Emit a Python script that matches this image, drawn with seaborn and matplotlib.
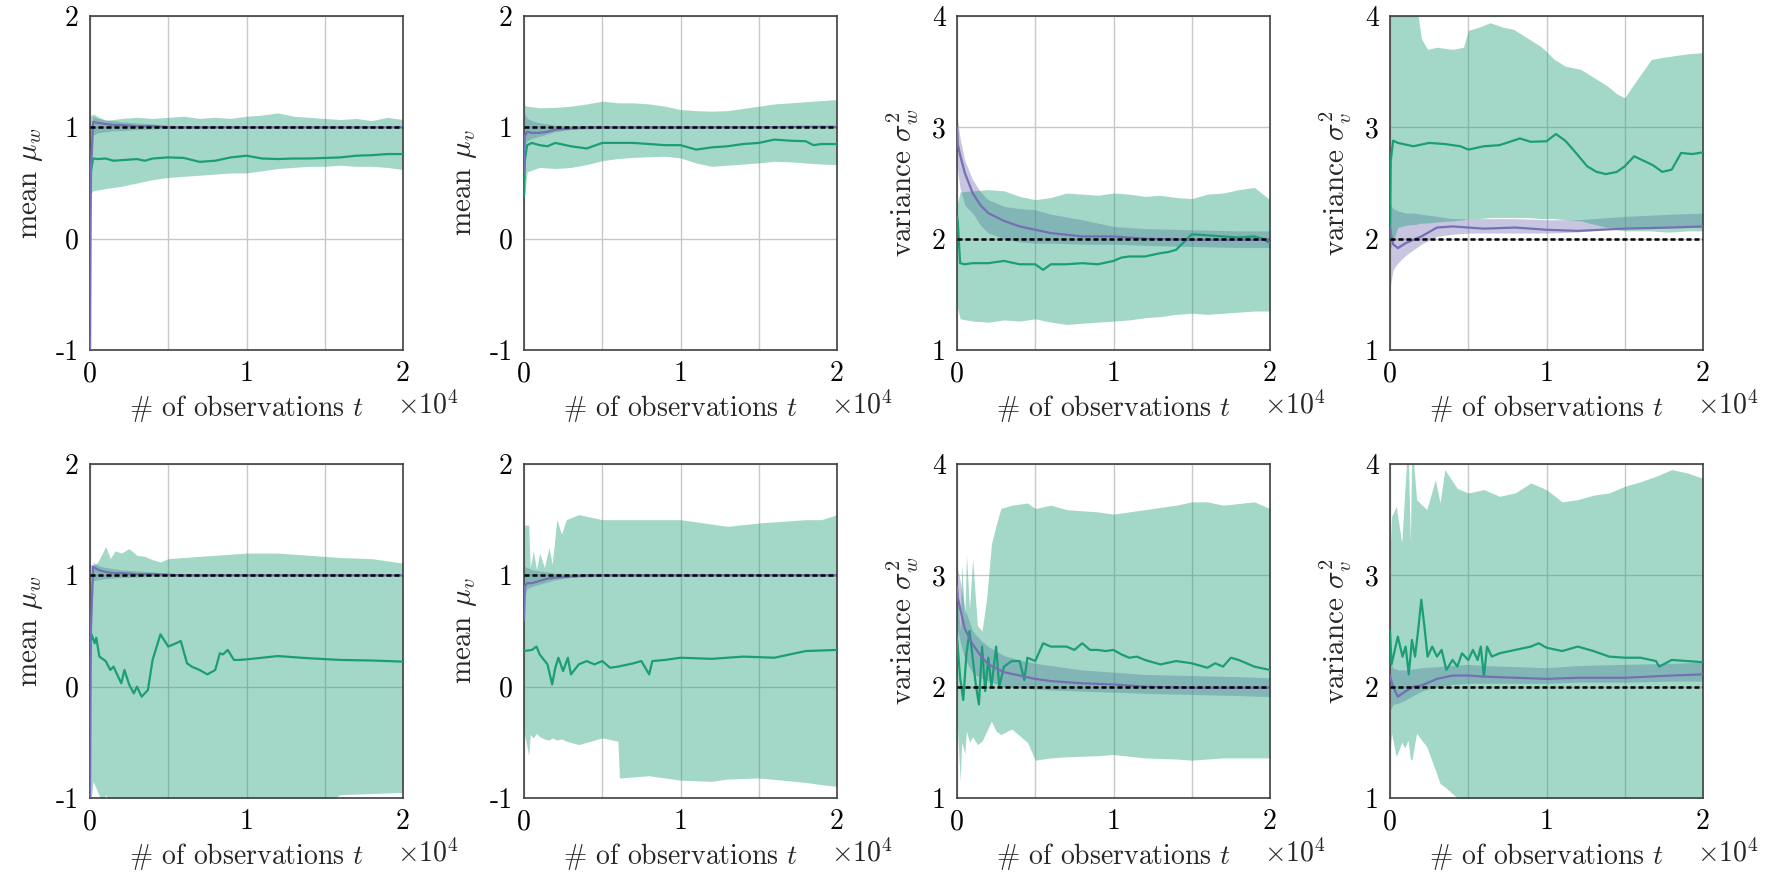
import matplotlib
matplotlib.use("Agg")
import matplotlib.pyplot as plt
import seaborn as sns
import pandas as pd

# ---------------- data (t in units of 10^4 observations) ----------------
T_PURPLE = [0, 0.005, 0.02, 0.05, 0.1, 0.15, 0.2, 0.3, 0.4, 0.5, 0.6, 0.8, 1.0, 1.2, 1.5, 1.8, 2.0]

# Panel 1: mean mu_w (top)
P1_G_T = [0, 0.005, 0.02, 0.05, 0.1, 0.15, 0.2, 0.25, 0.3, 0.35, 0.4, 0.5, 0.6, 0.7, 0.8, 0.9, 1.0, 1.1, 1.2, 1.3, 1.4, 1.5, 1.6, 1.7, 1.8, 1.9, 2.0]
P1_G_MEAN = [0.2, 0.6, 0.72, 0.715, 0.72, 0.70, 0.705, 0.71, 0.715, 0.70, 0.72, 0.73, 0.725, 0.69, 0.70, 0.73, 0.745, 0.72, 0.715, 0.72, 0.72, 0.725, 0.73, 0.745, 0.75, 0.76, 0.76]
P1_GB_T = [0, 0.02, 0.1, 0.2, 0.3, 0.4, 0.5, 0.6, 0.7, 0.8, 0.9, 1.0, 1.1, 1.2, 1.3, 1.4, 1.5, 1.6, 1.7, 1.8, 1.9, 2.0]
P1_G_HI = [1.1, 1.12, 1.06, 1.08, 1.09, 1.08, 1.09, 1.1, 1.08, 1.09, 1.08, 1.1, 1.11, 1.13, 1.1, 1.09, 1.08, 1.07, 1.08, 1.06, 1.09, 1.07]
P1_G_LO = [0.4, 0.43, 0.45, 0.47, 0.5, 0.53, 0.55, 0.56, 0.57, 0.58, 0.59, 0.59, 0.61, 0.63, 0.64, 0.65, 0.65, 0.66, 0.65, 0.65, 0.64, 0.62]
P1_P_MEAN = [-1.0, 0.6, 1.05, 1.04, 1.03, 1.02, 1.02, 1.01, 1.01, 1.0, 1.0, 1.0, 1.0, 1.0, 1.0, 1.0, 1.0]
P1_P_LO = [-1.0, 0.3, 0.93, 0.95, 0.96, 0.97, 0.97, 0.98, 0.985, 0.99, 0.99, 0.995, 0.995, 0.995, 0.995, 0.995, 0.995]
P1_P_HI = [-0.9, 1.0, 1.1, 1.08, 1.07, 1.06, 1.05, 1.04, 1.03, 1.02, 1.015, 1.01, 1.01, 1.005, 1.005, 1.005, 1.005]

# Panel 2: mean mu_v (top)
P2_G_T = [0, 0.005, 0.02, 0.05, 0.1, 0.15, 0.2, 0.3, 0.4, 0.5, 0.6, 0.7, 0.8, 0.9, 1.0, 1.1, 1.2, 1.3, 1.4, 1.5, 1.6, 1.7, 1.8, 1.85, 1.9, 2.0]
P2_G_MEAN = [0.38, 0.7, 0.84, 0.86, 0.84, 0.83, 0.86, 0.83, 0.81, 0.86, 0.86, 0.86, 0.85, 0.84, 0.84, 0.80, 0.82, 0.83, 0.85, 0.86, 0.89, 0.88, 0.875, 0.84, 0.85, 0.85]
P2_GB_T = [0, 0.02, 0.1, 0.2, 0.3, 0.4, 0.5, 0.6, 0.7, 0.8, 0.9, 1.0, 1.1, 1.2, 1.3, 1.4, 1.5, 1.6, 1.7, 1.8, 1.9, 2.0]
P2_G_HI = [1.2, 1.19, 1.175, 1.18, 1.19, 1.21, 1.235, 1.22, 1.22, 1.21, 1.19, 1.16, 1.15, 1.145, 1.15, 1.17, 1.19, 1.21, 1.22, 1.23, 1.24, 1.25]
P2_G_LO = [0.35, 0.6, 0.64, 0.63, 0.64, 0.665, 0.70, 0.72, 0.73, 0.735, 0.74, 0.725, 0.68, 0.65, 0.66, 0.67, 0.68, 0.695, 0.69, 0.68, 0.67, 0.665]
P2_P_MEAN = [0.6, 0.92, 0.96, 0.95, 0.95, 0.96, 0.98, 0.99, 1.0, 1.0, 1.0, 1.0, 1.0, 1.0, 1.0, 1.005, 1.005]
P2_P_LO = [0.5, 0.85, 0.88, 0.9, 0.92, 0.94, 0.96, 0.98, 0.985, 0.99, 0.99, 0.99, 0.99, 0.995, 0.995, 0.995, 0.995]
P2_P_HI = [1.2, 1.12, 1.08, 1.06, 1.04, 1.03, 1.02, 1.015, 1.015, 1.01, 1.01, 1.01, 1.01, 1.01, 1.01, 1.015, 1.015]

# Panel 3: variance sigma_w^2 (top)
P3_G_T = [0, 0.005, 0.02, 0.05, 0.1, 0.2, 0.3, 0.4, 0.5, 0.55, 0.6, 0.7, 0.8, 0.9, 1.0, 1.05, 1.1, 1.2, 1.3, 1.35, 1.4, 1.45, 1.5, 1.6, 1.7, 1.8, 1.9, 1.95, 2.0]
P3_G_MEAN = [2.2, 2.15, 1.78, 1.77, 1.78, 1.78, 1.80, 1.77, 1.77, 1.72, 1.77, 1.77, 1.78, 1.77, 1.80, 1.83, 1.84, 1.84, 1.87, 1.88, 1.90, 1.97, 2.04, 2.03, 2.02, 2.01, 2.02, 2.0, 1.96]
P3_GB_T = [0, 0.02, 0.1, 0.2, 0.3, 0.4, 0.5, 0.6, 0.7, 0.8, 0.9, 1.0, 1.1, 1.2, 1.3, 1.4, 1.5, 1.6, 1.7, 1.8, 1.9, 2.0]
P3_G_HI = [2.3, 2.42, 2.43, 2.44, 2.43, 2.38, 2.35, 2.37, 2.41, 2.4, 2.39, 2.41, 2.40, 2.38, 2.39, 2.37, 2.36, 2.40, 2.41, 2.44, 2.46, 2.35]
P3_G_LO = [1.4, 1.28, 1.26, 1.25, 1.27, 1.26, 1.28, 1.25, 1.23, 1.24, 1.25, 1.26, 1.27, 1.29, 1.3, 1.32, 1.33, 1.32, 1.33, 1.34, 1.35, 1.35]
P3_P_MEAN = [3.0, 2.85, 2.75, 2.59, 2.41, 2.3, 2.23, 2.16, 2.11, 2.08, 2.05, 2.02, 2.02, 2.0, 1.99, 1.99, 1.99]
P3_P_LO = [2.8, 2.6, 2.45, 2.3, 2.23, 2.12, 2.05, 2.0, 1.97, 1.96, 1.96, 1.95, 1.95, 1.94, 1.93, 1.92, 1.92]
P3_P_HI = [3.15, 3.05, 2.9, 2.7, 2.53, 2.42, 2.35, 2.29, 2.27, 2.26, 2.22, 2.17, 2.11, 2.09, 2.08, 2.07, 2.07]

# Panel 4: variance sigma_v^2 (top)
P4_G_T = [0, 0.005, 0.02, 0.05, 0.15, 0.25, 0.35, 0.45, 0.5, 0.6, 0.7, 0.83, 0.9, 1.0, 1.06, 1.12, 1.17, 1.26, 1.32, 1.38, 1.45, 1.5, 1.56, 1.62, 1.68, 1.74, 1.8, 1.86, 1.93, 2.0]
P4_G_MEAN = [2.0, 2.7, 2.88, 2.86, 2.83, 2.86, 2.85, 2.83, 2.80, 2.83, 2.84, 2.9, 2.87, 2.875, 2.94, 2.88, 2.8, 2.65, 2.6, 2.58, 2.6, 2.65, 2.74, 2.7, 2.66, 2.6, 2.62, 2.77, 2.76, 2.775]
P4_GB_T = [0, 0.05, 0.1, 0.17, 0.2, 0.24, 0.3, 0.4, 0.47, 0.5, 0.57, 0.64, 0.72, 0.79, 0.88, 0.96, 1.0, 1.05, 1.12, 1.22, 1.3, 1.39, 1.45, 1.5, 1.54, 1.58, 1.67, 1.75, 1.8, 1.9, 1.99, 2.0]
P4_G_HI = [4.2, 4.2, 4.2, 4.1, 3.8, 3.7, 3.72, 3.7, 3.72, 3.87, 3.9, 3.94, 3.9, 3.88, 3.8, 3.73, 3.68, 3.61, 3.55, 3.52, 3.45, 3.37, 3.3, 3.265, 3.35, 3.43, 3.61, 3.63, 3.64, 3.66, 3.67, 3.65]
P4_G_LO = [1.9, 2.1, 2.12, 2.13, 2.14, 2.14, 2.15, 2.16, 2.17, 2.18, 2.18, 2.19, 2.19, 2.19, 2.19, 2.18, 2.18, 2.18, 2.17, 2.16, 2.13, 2.1, 2.08, 2.07, 2.07, 2.07, 2.07, 2.06, 2.06, 2.07, 2.07, 2.07]
P4_P_MEAN = [2.1, 2.05, 1.95, 1.915, 1.96, 1.99, 2.02, 2.1, 2.11, 2.1, 2.09, 2.1, 2.08, 2.07, 2.09, 2.1, 2.11]
P4_P_LO = [1.5, 1.6, 1.72, 1.78, 1.85, 1.9, 1.95, 2.02, 2.04, 2.05, 2.05, 2.05, 2.05, 2.06, 2.1, 2.1, 2.1]
P4_P_HI = [2.35, 2.3, 2.27, 2.25, 2.23, 2.23, 2.22, 2.2, 2.18, 2.18, 2.18, 2.18, 2.17, 2.17, 2.2, 2.22, 2.23]

# Panel 5: mean mu_w (bottom)
P5_G_T = [0, 0.005, 0.01, 0.03, 0.04, 0.06, 0.1, 0.13, 0.15, 0.2, 0.22, 0.25, 0.28, 0.3, 0.33, 0.37, 0.4, 0.45, 0.5, 0.55, 0.58, 0.62, 0.65, 0.7, 0.75, 0.8, 0.83, 0.85, 0.88, 0.92, 0.95, 1.0, 1.2, 1.4, 1.6, 1.8, 2.0]
P5_G_MEAN = [0.18, 0.4, 0.47, 0.39, 0.44, 0.27, 0.23, 0.15, 0.18, 0.03, 0.15, 0.02, -0.06, 0.0, -0.09, -0.03, 0.24, 0.47, 0.36, 0.39, 0.41, 0.21, 0.18, 0.15, 0.11, 0.15, 0.30, 0.29, 0.33, 0.24, 0.24, 0.245, 0.275, 0.255, 0.24, 0.235, 0.225]
P5_GB_T = [0, 0.02, 0.05, 0.08, 0.1, 0.13, 0.16, 0.2, 0.25, 0.3, 0.35, 0.4, 0.45, 0.5, 0.6, 0.8, 1.0, 1.2, 1.4, 1.5, 1.6, 1.8, 2.0]
P5_G_HI = [1.1, 1.08, 1.12, 1.2, 1.26, 1.15, 1.22, 1.2, 1.24, 1.18, 1.17, 1.14, 1.12, 1.15, 1.16, 1.18, 1.2, 1.2, 1.18, 1.17, 1.16, 1.15, 1.11]
P5_G_LO = [-1.1, -0.85, -0.95, -1.05, -0.97, -1.05, -1.1, -1.1, -1.1, -1.1, -1.1, -1.1, -1.1, -1.1, -1.1, -1.1, -1.1, -1.1, -1.1, -1.05, -0.97, -0.96, -0.95]
P5_P_MEAN = [-1.0, 0.5, 1.08, 1.05, 1.03, 1.02, 1.02, 1.01, 1.01, 1.005, 1.0, 1.0, 1.0, 1.0, 1.0, 1.0, 1.0]
P5_P_LO = [-1.0, 0.3, 0.95, 0.96, 0.97, 0.975, 0.98, 0.985, 0.99, 0.99, 0.99, 0.995, 0.995, 0.995, 0.995, 0.995, 0.995]
P5_P_HI = [-0.9, 0.9, 1.12, 1.09, 1.07, 1.06, 1.05, 1.04, 1.03, 1.02, 1.015, 1.01, 1.01, 1.005, 1.005, 1.005, 1.005]

# Panel 6: mean mu_v (bottom)
P6_G_T = [0, 0.05, 0.08, 0.1, 0.15, 0.18, 0.2, 0.22, 0.25, 0.28, 0.3, 0.35, 0.4, 0.45, 0.5, 0.55, 0.6, 0.7, 0.75, 0.8, 0.82, 0.9, 1.0, 1.2, 1.4, 1.6, 1.7, 1.8, 2.0]
P6_G_MEAN = [0.32, 0.33, 0.36, 0.29, 0.2, 0.02, 0.17, 0.26, 0.14, 0.26, 0.11, 0.2, 0.23, 0.2, 0.23, 0.17, 0.18, 0.21, 0.23, 0.11, 0.23, 0.24, 0.26, 0.25, 0.27, 0.26, 0.29, 0.32, 0.33]
P6_GB_T = [0, 0.03, 0.04, 0.06, 0.08, 0.1, 0.13, 0.16, 0.18, 0.21, 0.24, 0.27, 0.35, 0.5, 0.6, 0.61, 0.8, 1.0, 1.2, 1.3, 1.5, 1.8, 1.9, 2.0]
P6_G_HI = [1.45, 1.45, 1.07, 1.22, 1.05, 1.2, 1.07, 1.25, 1.1, 1.5, 1.37, 1.5, 1.545, 1.5, 1.5, 1.5, 1.5, 1.5, 1.46, 1.44, 1.47, 1.5, 1.5, 1.545]
P6_G_LO = [-0.4, -0.62, -0.43, -0.46, -0.42, -0.45, -0.47, -0.48, -0.46, -0.48, -0.47, -0.49, -0.52, -0.46, -0.49, -0.82, -0.8, -0.84, -0.85, -0.83, -0.82, -0.86, -0.88, -0.895]
P6_P_MEAN = [0.6, 0.9, 0.93, 0.93, 0.95, 0.97, 0.98, 0.99, 1.0, 1.0, 1.0, 1.0, 1.0, 1.0, 1.0, 1.0, 1.0]
P6_P_LO = [0.45, 0.82, 0.88, 0.9, 0.92, 0.94, 0.96, 0.98, 0.985, 0.99, 0.99, 0.99, 0.99, 0.995, 0.995, 0.995, 0.995]
P6_P_HI = [1.1, 1.08, 1.07, 1.05, 1.04, 1.03, 1.02, 1.015, 1.01, 1.01, 1.01, 1.01, 1.01, 1.01, 1.01, 1.01, 1.01]

# Panel 7: variance sigma_w^2 (bottom)
P7_G_T = [0, 0.02, 0.04, 0.06, 0.08, 0.1, 0.12, 0.14, 0.16, 0.18, 0.2, 0.22, 0.25, 0.27, 0.3, 0.35, 0.4, 0.43, 0.45, 0.5, 0.55, 0.6, 0.7, 0.75, 0.8, 0.85, 0.9, 0.95, 1.0, 1.05, 1.1, 1.15, 1.2, 1.3, 1.4, 1.5, 1.6, 1.65, 1.7, 1.75, 1.8, 1.85, 1.9, 2.0]
P7_G_MEAN = [2.44, 2.08, 1.88, 2.29, 2.5, 2.26, 2.02, 1.84, 2.36, 1.96, 2.26, 2.0, 2.36, 2.0, 2.18, 2.23, 2.23, 2.06, 2.26, 2.23, 2.39, 2.36, 2.36, 2.33, 2.39, 2.33, 2.33, 2.32, 2.33, 2.29, 2.26, 2.27, 2.24, 2.2, 2.23, 2.21, 2.17, 2.21, 2.18, 2.26, 2.24, 2.21, 2.18, 2.15]
P7_GB_T = [0, 0.02, 0.03, 0.05, 0.06, 0.08, 0.1, 0.13, 0.16, 0.19, 0.22, 0.25, 0.28, 0.35, 0.45, 0.5, 0.6, 0.7, 0.9, 1.0, 1.2, 1.4, 1.5, 1.6, 1.7, 1.9, 2.0]
P7_G_HI = [2.92, 2.5, 3.1, 2.6, 3.19, 2.7, 3.15, 2.55, 2.5, 2.8, 3.28, 3.45, 3.6, 3.63, 3.65, 3.6, 3.63, 3.59, 3.57, 3.55, 3.59, 3.63, 3.66, 3.66, 3.63, 3.66, 3.6]
P7_G_LO = [1.72, 1.15, 1.5, 1.4, 1.6, 1.5, 1.55, 1.48, 1.51, 1.6, 1.69, 1.6, 1.57, 1.62, 1.5, 1.34, 1.36, 1.37, 1.38, 1.39, 1.36, 1.35, 1.34, 1.35, 1.36, 1.36, 1.36]
P7_P_MEAN = [2.9, 2.8, 2.7, 2.52, 2.38, 2.28, 2.2, 2.13, 2.1, 2.07, 2.05, 2.03, 2.02, 2.0, 1.99, 1.99, 1.99]
P7_P_LO = [2.6, 2.5, 2.4, 2.25, 2.12, 2.08, 2.05, 2.0, 1.99, 1.98, 1.97, 1.96, 1.95, 1.94, 1.93, 1.92, 1.91]
P7_P_HI = [3.1, 3.05, 2.95, 2.7, 2.5, 2.42, 2.36, 2.28, 2.24, 2.21, 2.19, 2.15, 2.13, 2.11, 2.1, 2.09, 2.08]

# Panel 8: variance sigma_v^2 (bottom)
P8_G_T = [0, 0.01, 0.05, 0.08, 0.1, 0.12, 0.14, 0.16, 0.18, 0.2, 0.22, 0.24, 0.27, 0.3, 0.33, 0.36, 0.4, 0.43, 0.46, 0.5, 0.53, 0.56, 0.58, 0.6, 0.62, 0.65, 0.7, 0.8, 0.9, 0.95, 1.0, 1.1, 1.2, 1.3, 1.4, 1.5, 1.6, 1.7, 1.72, 1.8, 1.9, 2.0]
P8_G_MEAN = [2.5, 2.2, 2.45, 2.27, 2.36, 2.11, 2.42, 2.27, 2.51, 2.78, 2.54, 2.27, 2.36, 2.27, 2.33, 2.15, 2.24, 2.18, 2.3, 2.24, 2.33, 2.24, 2.36, 2.09, 2.36, 2.27, 2.3, 2.33, 2.36, 2.39, 2.35, 2.32, 2.36, 2.32, 2.27, 2.26, 2.26, 2.23, 2.18, 2.24, 2.23, 2.22]
P8_GB_T = [0, 0.01, 0.04, 0.075, 0.095, 0.115, 0.13, 0.14, 0.17, 0.235, 0.29, 0.32, 0.35, 0.43, 0.5, 0.6, 0.7, 0.8, 0.9, 1.0, 1.1, 1.2, 1.3, 1.4, 1.5, 1.6, 1.7, 1.8, 1.9, 2.0]
P8_G_HI = [3.2, 3.53, 3.62, 3.29, 3.77, 4.2, 3.3, 4.2, 3.68, 3.59, 3.86, 3.65, 3.95, 3.78, 3.74, 3.77, 3.71, 3.74, 3.83, 3.77, 3.66, 3.68, 3.72, 3.74, 3.8, 3.84, 3.89, 3.95, 3.92, 3.87]
P8_G_LO = [1.4, 1.58, 1.37, 1.5, 1.45, 1.52, 1.35, 1.34, 1.58, 1.46, 1.25, 1.13, 1.1, 1.0, 0.9, 0.85, 0.8, 0.8, 0.8, 0.8, 0.8, 0.8, 0.8, 0.8, 0.8, 0.8, 0.8, 0.8, 0.8, 0.8]
P8_P_MEAN = [2.1, 2.07, 2.0, 1.91, 1.96, 2.0, 2.01, 2.07, 2.1, 2.1, 2.09, 2.08, 2.07, 2.08, 2.08, 2.1, 2.11]
P8_P_LO = [1.75, 1.8, 1.84, 1.85, 1.88, 1.92, 1.96, 2.0, 2.02, 2.03, 2.03, 2.03, 2.03, 2.04, 2.04, 2.05, 2.05]
P8_P_HI = [2.25, 2.2, 2.17, 2.15, 2.15, 2.16, 2.17, 2.18, 2.19, 2.2, 2.19, 2.18, 2.17, 2.19, 2.2, 2.21, 2.22]

Y_LABELS = [r"mean $\mu_w$", r"mean $\mu_v$", r"variance $\sigma^2_w$", r"variance $\sigma^2_v$"]
TRUE_VALUES = [1.0, 1.0, 2.0, 2.0]
Y_TICKS_MEAN = [-1, 0, 1, 2]
Y_TICKS_VAR = [1, 2, 3, 4]
X_TICKS = [0, 0.5, 1, 1.5, 2]
X_TICK_LABELS = ["0", "", "1", "", "2"]
X_LABEL = r"# of observations $t$"

# ---------------- style ----------------
sns.set_style("whitegrid")
plt.rcParams.update({
    "font.family": ["cmr10", "DejaVu Serif"],
    "mathtext.fontset": "cm",
    "axes.unicode_minus": False,
    "axes.formatter.use_mathtext": True,
    "font.size": 20,
})

GREEN = "#1b9e77"
PURPLE = "#7570b3"

panels = [
    (P1_G_T, P1_G_MEAN, P1_GB_T, P1_G_LO, P1_G_HI, P1_P_MEAN, P1_P_LO, P1_P_HI),
    (P2_G_T, P2_G_MEAN, P2_GB_T, P2_G_LO, P2_G_HI, P2_P_MEAN, P2_P_LO, P2_P_HI),
    (P3_G_T, P3_G_MEAN, P3_GB_T, P3_G_LO, P3_G_HI, P3_P_MEAN, P3_P_LO, P3_P_HI),
    (P4_G_T, P4_G_MEAN, P4_GB_T, P4_G_LO, P4_G_HI, P4_P_MEAN, P4_P_LO, P4_P_HI),
    (P5_G_T, P5_G_MEAN, P5_GB_T, P5_G_LO, P5_G_HI, P5_P_MEAN, P5_P_LO, P5_P_HI),
    (P6_G_T, P6_G_MEAN, P6_GB_T, P6_G_LO, P6_G_HI, P6_P_MEAN, P6_P_LO, P6_P_HI),
    (P7_G_T, P7_G_MEAN, P7_GB_T, P7_G_LO, P7_G_HI, P7_P_MEAN, P7_P_LO, P7_P_HI),
    (P8_G_T, P8_G_MEAN, P8_GB_T, P8_G_LO, P8_G_HI, P8_P_MEAN, P8_P_LO, P8_P_HI),
]

W, H = 1776, 876
fig = plt.figure(figsize=(W / 100, H / 100), dpi=100)
lefts_px = [90, 524, 957, 1390]
bottoms_px = [350, 798]
aw, ah = 313, 334

for idx, (gt, gm, gbt, glo, ghi, pm, plo, phi) in enumerate(panels):
    row, col = divmod(idx, 4)
    ax = fig.add_axes([lefts_px[col] / W, (H - bottoms_px[row]) / H, aw / W, ah / H])
    ax.set_axisbelow(True)
    ax.fill_between(T_PURPLE, plo, phi, color=PURPLE, alpha=0.4, lw=0, zorder=1)
    ax.fill_between(gbt, glo, ghi, color=GREEN, alpha=0.4, lw=0, zorder=2)
    gdf = pd.DataFrame({"t": gt, "v": gm})
    pdf = pd.DataFrame({"t": T_PURPLE, "v": pm})
    sns.lineplot(data=gdf, x="t", y="v", color=GREEN, lw=1.6, ax=ax, zorder=3)
    sns.lineplot(data=pdf, x="t", y="v", color=PURPLE, lw=1.6, ax=ax, zorder=4)
    tv = TRUE_VALUES[col]
    sns.lineplot(x=[0, 2], y=[tv, tv], color="black", lw=1.8, ax=ax, zorder=5,
                 dashes=False, linestyle=(0, (2.0, 1.2)))
    yt = Y_TICKS_MEAN if col < 2 else Y_TICKS_VAR
    ax.set_xlim(0, 2)
    ax.set_ylim(yt[0], yt[-1])
    ax.set_xticks(X_TICKS)
    ax.set_xticklabels(X_TICK_LABELS)
    ax.set_yticks(yt)
    ax.set_yticklabels([str(v) for v in yt])
    ax.grid(True, color="#c8c8c8", lw=1.0)
    for s in ax.spines.values():
        s.set_color("#404040")
        s.set_linewidth(1.2)
    ax.tick_params(axis="both", which="both", length=0, pad=8, labelsize=20, colors="black")
    ax.set_xlabel(X_LABEL, fontsize=20, labelpad=4)
    ax.set_ylabel(Y_LABELS[col], fontsize=21, labelpad=8)
    ax.text(0.98, -0.165, r"$\times10^4$", transform=ax.transAxes, ha="left", va="center", fontsize=20)

fig.savefig("out.png", dpi=100)
